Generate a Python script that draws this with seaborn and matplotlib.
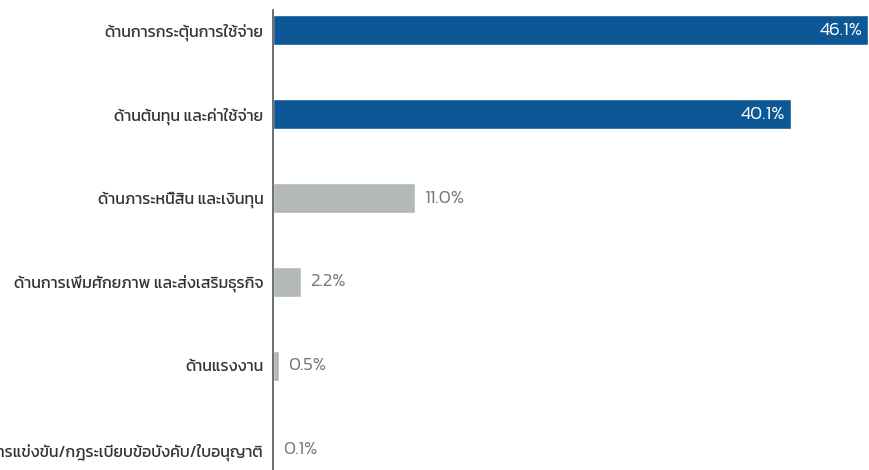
import matplotlib
matplotlib.use("Agg")
import matplotlib.pyplot as plt
import seaborn as sns
import pandas as pd

categories = [
    "ด้านการกระตุ้นการใช้จ่าย",
    "ด้านต้นทุน และค่าใช้จ่าย",
    "ด้านภาระหนี้สิน และเงินทุน",
    "ด้านการเพิ่มศักยภาพ และส่งเสริมธุรกิจ",
    "ด้านแรงงาน",
    "ด้านการแข่งขัน/กฎระเบียบข้อบังคับ/ใบอนุญาติ",
]
values = [46.1, 40.1, 11.0, 2.2, 0.5, 0.1]
labels = ["46.1%", "40.1%", "11.0%", "2.2%", "0.5%", "0.1%"]

blue = "#0d5796"
grey = "#b3b8b8"
colors = [blue if v > 30 else grey for v in values]

df = pd.DataFrame({"category": categories, "value": values})

sns.set_style("white")
plt.rcParams["font.family"] = ["Kanit", "DejaVu Sans"]
plt.rcParams["font.weight"] = "normal"

fig = plt.figure(figsize=(8.7, 4.7), dpi=100)
ax = fig.add_axes([273 / 870, 0, 597 / 870, 460 / 470])

sns.barplot(data=df, x="value", y="category", hue="category", palette=colors,
            width=0.36, legend=False, ax=ax, saturation=1)

ax.set_xlim(0, 46.1 * 597 / 595)
ax.set_ylim(5.24, -0.24)

# value labels: inside for the two big bars, outside for the rest
for i, (v, lab) in enumerate(zip(values, labels)):
    if v > 30:
        ax.text(v - 0.45, i, lab, ha="right", va="center", color="white",
                fontsize=13.5, fontweight=300)
    else:
        ax.text(v + 0.7, i, lab, ha="left", va="center", color="#767676",
                fontsize=13.5, fontweight=300)

ax.set_xlabel("")
ax.set_ylabel("")
ax.set_xticks([])
ax.tick_params(axis="y", length=0, pad=7, labelsize=11.5, labelcolor="#333333")
for s in ["top", "right", "bottom"]:
    ax.spines[s].set_visible(False)
ax.spines["left"].set_color("#555555")
ax.spines["left"].set_linewidth(1.2)

fig.savefig("out.png", dpi=100)
